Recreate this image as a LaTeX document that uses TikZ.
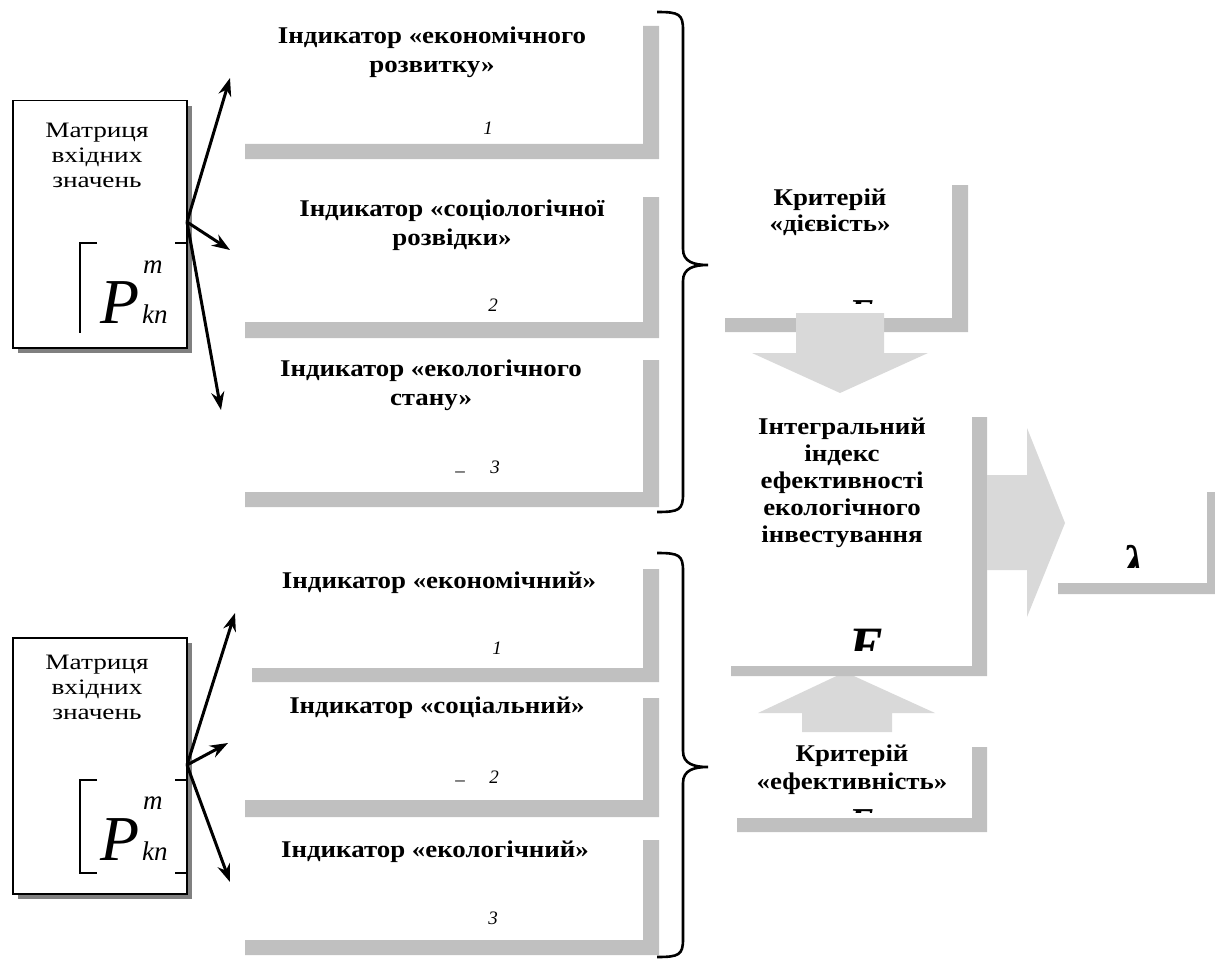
\documentclass[tikz,border=0pt]{standalone}
\usepackage{fontspec}
\setmainfont{Liberation Serif}
\newfontfamily\lblfont[FakeStretch=1.12]{Liberation Serif}
\newfontfamily\mtxfont[FakeStretch=1.24]{Liberation Serif}
\usetikzlibrary{arrows.meta}
\definecolor{barGray}{HTML}{C0C0C0}
\definecolor{arrGray}{HTML}{D9D9D9}
\definecolor{shdGray}{HTML}{808080}

\begin{document}
\begin{tikzpicture}[x=1pt,y=-1pt,
    bar/.style={fill=barGray},
    bigarr/.style={fill=arrGray},
    lbl/.style={font=\lblfont\bfseries\fontsize{24}{29}\selectfont, align=center, inner sep=0pt},
    txt/.style={font=\mtxfont\fontsize{22}{25}\selectfont, align=center, inner sep=0pt},
    num/.style={font=\itshape\fontsize{19}{19}\selectfont, inner sep=0pt},
    mtx/.style={draw, line width=1.5pt, fill=white, anchor=north west, minimum width=174pt, inner sep=0pt},
    arr/.style={line width=3pt, -{Stealth[length=18pt,width=13pt]}},
    brk/.style={line width=2pt},
    brc/.style={line width=2.6pt}]
\useasboundingbox (0,0) rectangle (1215,963);

% indicator frames
\foreach \xl/\yt/\ya/\yb in {245/26/144/159, 245/197/322/338, 245/360/492/507,
                             252/569/668/682, 245/698/800/817, 245/840/940/955}
    {\fill[bar] (\xl,\ya) -- (643,\ya) -- (643,\yt) -- (659,\yt) -- (659,\yb) -- (\xl,\yb) -- cycle;}

\node[lbl] (indA) at (432,52) {Індикатор «економічного\\розвитку»};
\node[lbl] (indB) at (452,225) {Індикатор «соціологічної\\розвідки»};
\node[lbl] (indC) at (431,385) {Індикатор «екологічного\\стану»};
\node[lbl] (indD) at (439,583) {Індикатор «економічний»};
\node[lbl] (indE) at (437,708) {Індикатор «соціальний»};
\node[lbl] (indF) at (435,852) {Індикатор «екологічний»};

\node[num] (numA) at (488,128) {1};
\node[num] (numB) at (493,305) {2};
\node[num] (numC) at (495,467) {3};
\node[num] (numD) at (497,648) {1};
\node[num] (numE) at (494,777) {2};
\node[num] (numF) at (493,918) {3};
\node[num, font=\fontsize{19}{19}\selectfont] (usC) at (460,472) {\_};
\node[num, font=\fontsize{19}{19}\selectfont] (usE) at (460,781) {\_};

% criterion frames
\fill[bar] (725,318) -- (952,318) -- (952,185) -- (968,185) -- (968,332) -- (725,332) -- cycle;
\fill[bigarr] (802,732) -- (892,732) -- (892,713) -- (935,713) -- (845,672) -- (758,713) -- (802,713) -- cycle;
\foreach \xl/\xa/\xb/\yt/\ya/\yb in {731/972/987/417/666/676, 737/972/987/747/818/832, 1058/1207/1215/492/583/594}
    {\fill[bar] (\xl,\ya) -- (\xa,\ya) -- (\xa,\yt) -- (\xb,\yt) -- (\xb,\yb) -- (\xl,\yb) -- cycle;}
\fill[bigarr] (796,313) -- (884,313) -- (884,353) -- (928,353) -- (840,393) -- (752,353) -- (796,353) -- cycle;
\fill[bigarr] (987,475) -- (1027,475) -- (1027,428) -- (1065,523) -- (1027,617) -- (1027,570) -- (987,570) -- cycle;

\node[lbl, font=\lblfont\bfseries\fontsize{24}{26}\selectfont] (critA) at (830,212) {Критерій\\«дієвість»};
\node[lbl, font=\lblfont\bfseries\fontsize{24}{27}\selectfont] (integ) at (842,483)
    {Інтегральний\\індекс\\ефективності\\екологічного\\інвестування};
\node[lbl, font=\lblfont\bfseries\fontsize{24}{28}\selectfont] (critB) at (852,770) {Критерій\\«ефективність»};

% clipped symbols
\begin{scope}
    \clip (830,290) rectangle (900,303.5);
    \node[anchor=base, inner sep=0pt, font=\bfseries\itshape\fontsize{38}{38}\selectfont] (eA) at (862,325) {E};
\end{scope}
\begin{scope}
    \clip (820,615) rectangle (910,650);
    \node[anchor=base, inner sep=0pt, font=\bfseries\itshape\fontsize{54}{54}\selectfont] (eInt) at (866,664) {E};
\end{scope}
\begin{scope}
    \clip (830,800) rectangle (900,812);
    \node[anchor=base, inner sep=0pt, font=\bfseries\itshape\fontsize{38}{38}\selectfont] (eB) at (862,834) {E};
\end{scope}
\begin{scope}
    \clip (1100,530) rectangle (1170,567);
    \node[anchor=base, inner sep=0pt, font=\bfseries\itshape\fontsize{50}{50}\selectfont] (lam) at (1134,580) {λ};
\end{scope}

% input matrices
\fill[shdGray] (18,106) rectangle (192,353);
\node[mtx, minimum height=247pt] (mtxA) at (12,100) {};
\node[txt] (mtxAtxt) at (97,155) {Матриця\\вхідних\\значень};
\draw[brk] (97,243) -- (80,243) -- (80,333);
\draw[brk] (175,243) -- (186,243);
\node[anchor=base west, inner sep=0pt, font=\itshape\fontsize{64}{64}\selectfont] (pA) at (100,323) {P};
\node[anchor=base west, inner sep=0pt, font=\itshape\fontsize{27}{27}\selectfont] (mA) at (143,273) {m};
\node[anchor=base west, inner sep=0pt, font=\itshape\fontsize{27}{27}\selectfont] (knA) at (142,323) {kn};

\fill[shdGray] (18,643) rectangle (192,899);
\node[mtx, minimum height=256pt] (mtxB) at (12,637) {};
\node[txt] (mtxBtxt) at (97,687) {Матриця\\вхідних\\значень};
\draw[brk] (97,780) -- (80,780) -- (80,873) -- (97,873);
\draw[brk] (175,780) -- (186,780);
\draw[brk] (175,873) -- (186,873);
\node[anchor=base west, inner sep=0pt, font=\itshape\fontsize{64}{64}\selectfont] (pB) at (100,860) {P};
\node[anchor=base west, inner sep=0pt, font=\itshape\fontsize{27}{27}\selectfont] (mB) at (143,809) {m};
\node[anchor=base west, inner sep=0pt, font=\itshape\fontsize{27}{27}\selectfont] (knB) at (142,860) {kn};

% fan-out arrows
\coordinate (mtxA-o) at (187,222);
\coordinate (tipA1) at (230,78);
\coordinate (tipA2) at (230,250);
\coordinate (tipA3) at (221,410);
\coordinate (mtxB-o) at (187,765);
\coordinate (tipB1) at (235,613);
\coordinate (tipB2) at (228,743);
\coordinate (tipB3) at (230,882);
\foreach \g in {A,B}
    \foreach \i in {1,2,3}
        {\draw[arr] (mtx\g-o) -- (tip\g\i);}

% braces: top / cusp / bottom
\foreach \ya/\ym/\yb in {12/265/512, 553/767/957}
    {\draw[brc] (657,\ya) .. controls (679,\ya) and (683,\ya+2) .. (683,\ya+18)
        -- (683,\ym-16) .. controls (683,\ym-3) and (694,\ym) .. (708,\ym)
        .. controls (694,\ym) and (683,\ym+3) .. (683,\ym+16)
        -- (683,\yb-18) .. controls (683,\yb-2) and (679,\yb) .. (657,\yb);}
\end{tikzpicture}
\end{document}
